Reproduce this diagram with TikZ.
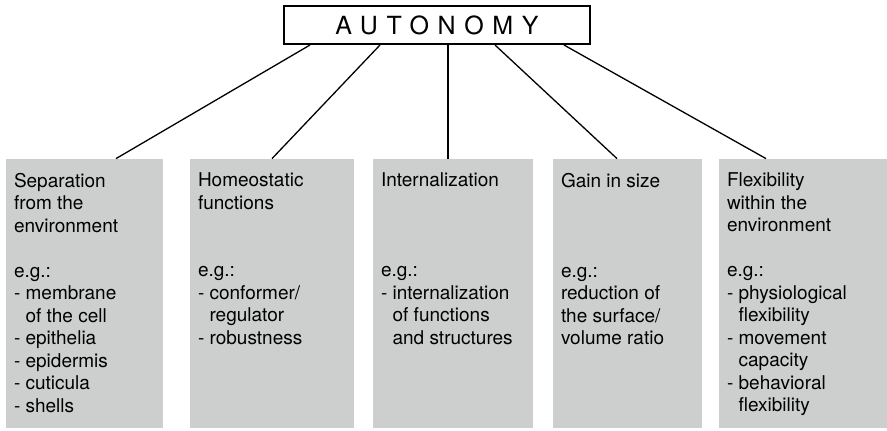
\documentclass[tikz,border=0pt]{standalone}
\usepackage{fontspec}
\setmainfont{TeX Gyre Heros}
\usepackage{tikz}
\usetikzlibrary{positioning}
\definecolor{boxgray}{RGB}{205,207,206}

\tikzset{
  autobox/.style={draw, line width=1pt, minimum width=153pt, minimum height=19pt, inner sep=0pt,
    font=\fontsize{12.5}{15}\selectfont\addfontfeature{LetterSpace=34.6}},
  catbox/.style={fill=boxgray, minimum height=134.5pt, inner sep=0pt},
  cattext/.style={anchor=north west, align=left, inner sep=0pt, font=\fontsize{9.5}{11.25}\selectfont},
  link/.style={line width=0.65pt}
}

\begin{document}
\begin{tikzpicture}[x=0.5pt, y=-0.5pt]
\useasboundingbox (0,0) rectangle (887,430);
% Top node
\node[autobox] (autonomy) at (437,25) {AUTONOMY};
% Category boxes
\node[catbox, minimum width=78.5pt] (sep) at (84.5,293.5) {};
\node[catbox, minimum width=82pt] (homeo) at (272,293.5) {};
\node[catbox, minimum width=80pt] (intern) at (453,293.5) {};
\node[catbox, minimum width=74.5pt] (gain) at (627.5,293.5) {};
\node[catbox, minimum width=84pt] (flex) at (803,293.5) {};
% Box texts
\node[cattext] (septext) at ([shift={(4pt,-7pt)}]sep.north west)
  {Separation\\from the\\environment\\[\baselineskip]e.g.:\\- membrane\\\hphantom{- }of the cell\\- epithelia\\- epidermis\\- cuticula\\- shells};
\node[cattext] (homeotext) at ([shift={(4pt,-7pt)}]homeo.north west)
  {Homeostatic\\functions\\[2\baselineskip]e.g.:\\- conformer/\\\hphantom{- }regulator\\- robustness};
\node[cattext] (interntext) at ([shift={(4pt,-7pt)}]intern.north west)
  {Internalization\\[3\baselineskip]e.g.:\\- internalization\\\hphantom{- }of functions\\\hphantom{- }and structures};
\node[cattext] (gaintext) at ([shift={(4pt,-7pt)}]gain.north west)
  {Gain in size\\[3\baselineskip]e.g.:\\reduction of\\the surface/\\volume ratio};
\node[cattext] (flextext) at ([shift={(4pt,-7pt)}]flex.north west)
  {Flexibility\\within the\\environment\\[\baselineskip]e.g.:\\- physiological\\\hphantom{- }flexibility\\- movement\\\hphantom{- }capacity\\- behavioral\\\hphantom{- }flexibility};
% Connectors
\draw[link] ([xshift=-63.5pt]autonomy.south) -- ([xshift=15.75pt]sep.north);
\draw[link] ([xshift=-28.5pt]autonomy.south) -- (homeo.north);
\draw[link] ([xshift=5.5pt]autonomy.south) -- ([xshift=-2.5pt]intern.north);
\draw[link] ([xshift=29pt]autonomy.south) -- ([xshift=-5.25pt]gain.north);
\draw[link] ([xshift=63.5pt]autonomy.south) -- ([xshift=-18.5pt]flex.north);
\end{tikzpicture}
\end{document}
